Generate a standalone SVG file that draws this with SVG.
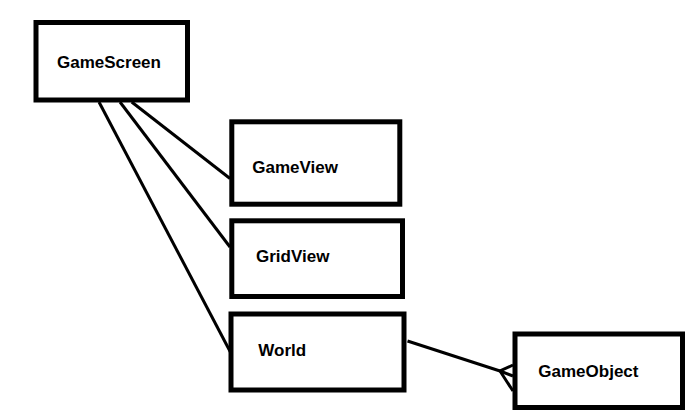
<svg xmlns="http://www.w3.org/2000/svg" width="698" height="412" viewBox="0 0 698 412">
<style>
.box{fill:#fff;stroke:#000;stroke-width:5}
.lbl{font-family:"Liberation Sans",Arial,sans-serif;font-weight:bold;font-size:17px;fill:#000}
.ln{fill:none;stroke:#000;stroke-width:3;stroke-linecap:butt}
</style>
<rect width="698" height="412" fill="#fff"/>
<g id="connectors">
<line class="ln" x1="131.7" y1="102" x2="230" y2="178.5"/>
<line class="ln" x1="120" y1="102" x2="230" y2="247"/>
<line class="ln" x1="99" y1="102" x2="233" y2="357"/>
<line class="ln" x1="407.5" y1="341" x2="500" y2="371"/>
<polyline class="ln" points="513,365 500,371 513,391"/>
<line class="ln" x1="500" y1="371" x2="513" y2="376"/>
</g>
<g id="GameScreen">
<rect class="box" x="36" y="22.5" width="151.5" height="77.5"/>
<text class="lbl" x="57" y="68">GameScreen</text>
</g>
<g id="GameView">
<rect class="box" x="231.8" y="121.8" width="168" height="82.4"/>
<text class="lbl" x="252.3" y="172.7">GameView</text>
</g>
<g id="GridView">
<rect class="box" x="231.8" y="220.8" width="170.7" height="75.7"/>
<text class="lbl" x="256" y="262.3">GridView</text>
</g>
<g id="World">
<rect class="box" x="231" y="314" width="173" height="76"/>
<text class="lbl" x="258.3" y="355.7">World</text>
</g>
<g id="GameObject">
<rect class="box" x="515" y="334" width="167.5" height="73.5"/>
<text class="lbl" x="538.3" y="376.7">GameObject</text>
</g>
</svg>
